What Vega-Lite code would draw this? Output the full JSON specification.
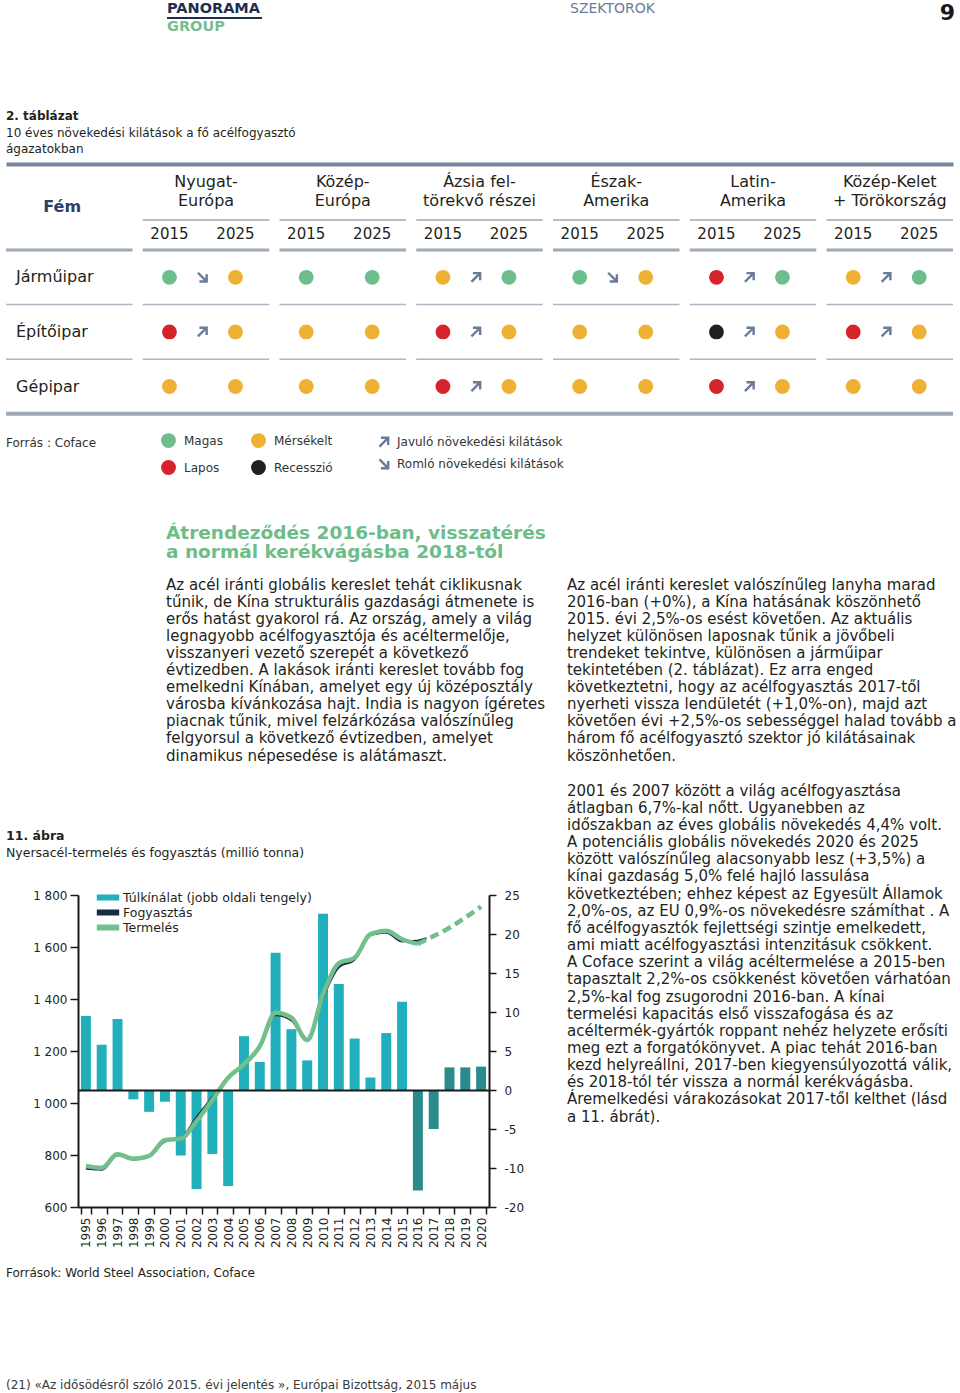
{
"$schema": "https://vega.github.io/schema/vega-lite/v6.json",
"background": "white",
"padding": {"left": 5, "top": 0, "right": 0, "bottom": 0},
"autosize": {"type": "pad"},
"spacing": 0,
"resolve": {"scale": {"color": "independent", "shape": "independent", "strokeDash": "independent", "strokeWidth": "independent"}, "legend": {"color": "independent", "shape": "independent", "strokeDash": "independent", "strokeWidth": "independent"}},
"config": {
  "font": "DejaVu Sans",
  "view": {"stroke": null},
  "axis": {"grid": false, "labelFont": "DejaVu Sans"},
  "legend": {"labelFont": "DejaVu Sans"},
  "text": {"font": "DejaVu Sans"}
},
"datasets": {
  "szintek": [
    {"agazat": "Járműipar", "oszlop": "Nyugat-Európa", "ev": "2015", "szint": "Magas"},
    {"agazat": "Járműipar", "oszlop": "Nyugat-Európa", "ev": "2025", "szint": "Mérsékelt"},
    {"agazat": "Járműipar", "oszlop": "Közép-Európa", "ev": "2015", "szint": "Magas"},
    {"agazat": "Járműipar", "oszlop": "Közép-Európa", "ev": "2025", "szint": "Magas"},
    {"agazat": "Járműipar", "oszlop": "Ázsia feltörekvő részei", "ev": "2015", "szint": "Mérsékelt"},
    {"agazat": "Járműipar", "oszlop": "Ázsia feltörekvő részei", "ev": "2025", "szint": "Magas"},
    {"agazat": "Járműipar", "oszlop": "Észak-Amerika", "ev": "2015", "szint": "Magas"},
    {"agazat": "Járműipar", "oszlop": "Észak-Amerika", "ev": "2025", "szint": "Mérsékelt"},
    {"agazat": "Járműipar", "oszlop": "Latin-Amerika", "ev": "2015", "szint": "Lapos"},
    {"agazat": "Járműipar", "oszlop": "Latin-Amerika", "ev": "2025", "szint": "Magas"},
    {"agazat": "Járműipar", "oszlop": "Közép-Kelet + Törökország", "ev": "2015", "szint": "Mérsékelt"},
    {"agazat": "Járműipar", "oszlop": "Közép-Kelet + Törökország", "ev": "2025", "szint": "Magas"},
    {"agazat": "Építőipar", "oszlop": "Nyugat-Európa", "ev": "2015", "szint": "Lapos"},
    {"agazat": "Építőipar", "oszlop": "Nyugat-Európa", "ev": "2025", "szint": "Mérsékelt"},
    {"agazat": "Építőipar", "oszlop": "Közép-Európa", "ev": "2015", "szint": "Mérsékelt"},
    {"agazat": "Építőipar", "oszlop": "Közép-Európa", "ev": "2025", "szint": "Mérsékelt"},
    {"agazat": "Építőipar", "oszlop": "Ázsia feltörekvő részei", "ev": "2015", "szint": "Lapos"},
    {"agazat": "Építőipar", "oszlop": "Ázsia feltörekvő részei", "ev": "2025", "szint": "Mérsékelt"},
    {"agazat": "Építőipar", "oszlop": "Észak-Amerika", "ev": "2015", "szint": "Mérsékelt"},
    {"agazat": "Építőipar", "oszlop": "Észak-Amerika", "ev": "2025", "szint": "Mérsékelt"},
    {"agazat": "Építőipar", "oszlop": "Latin-Amerika", "ev": "2015", "szint": "Recesszió"},
    {"agazat": "Építőipar", "oszlop": "Latin-Amerika", "ev": "2025", "szint": "Mérsékelt"},
    {"agazat": "Építőipar", "oszlop": "Közép-Kelet + Törökország", "ev": "2015", "szint": "Lapos"},
    {"agazat": "Építőipar", "oszlop": "Közép-Kelet + Törökország", "ev": "2025", "szint": "Mérsékelt"},
    {"agazat": "Gépipar", "oszlop": "Nyugat-Európa", "ev": "2015", "szint": "Mérsékelt"},
    {"agazat": "Gépipar", "oszlop": "Nyugat-Európa", "ev": "2025", "szint": "Mérsékelt"},
    {"agazat": "Gépipar", "oszlop": "Közép-Európa", "ev": "2015", "szint": "Mérsékelt"},
    {"agazat": "Gépipar", "oszlop": "Közép-Európa", "ev": "2025", "szint": "Mérsékelt"},
    {"agazat": "Gépipar", "oszlop": "Ázsia feltörekvő részei", "ev": "2015", "szint": "Lapos"},
    {"agazat": "Gépipar", "oszlop": "Ázsia feltörekvő részei", "ev": "2025", "szint": "Mérsékelt"},
    {"agazat": "Gépipar", "oszlop": "Észak-Amerika", "ev": "2015", "szint": "Mérsékelt"},
    {"agazat": "Gépipar", "oszlop": "Észak-Amerika", "ev": "2025", "szint": "Mérsékelt"},
    {"agazat": "Gépipar", "oszlop": "Latin-Amerika", "ev": "2015", "szint": "Lapos"},
    {"agazat": "Gépipar", "oszlop": "Latin-Amerika", "ev": "2025", "szint": "Mérsékelt"},
    {"agazat": "Gépipar", "oszlop": "Közép-Kelet + Törökország", "ev": "2015", "szint": "Mérsékelt"},
    {"agazat": "Gépipar", "oszlop": "Közép-Kelet + Törökország", "ev": "2025", "szint": "Mérsékelt"}
  ],
  "iranyok": [
    {"agazat": "Járműipar", "oszlop": "Nyugat-Európa", "ev": "irány", "irany": "Romló növekedési kilátások"},
    {"agazat": "Járműipar", "oszlop": "Ázsia feltörekvő részei", "ev": "irány", "irany": "Javuló növekedési kilátások"},
    {"agazat": "Járműipar", "oszlop": "Észak-Amerika", "ev": "irány", "irany": "Romló növekedési kilátások"},
    {"agazat": "Járműipar", "oszlop": "Latin-Amerika", "ev": "irány", "irany": "Javuló növekedési kilátások"},
    {"agazat": "Járműipar", "oszlop": "Közép-Kelet + Törökország", "ev": "irány", "irany": "Javuló növekedési kilátások"},
    {"agazat": "Építőipar", "oszlop": "Nyugat-Európa", "ev": "irány", "irany": "Javuló növekedési kilátások"},
    {"agazat": "Építőipar", "oszlop": "Ázsia feltörekvő részei", "ev": "irány", "irany": "Javuló növekedési kilátások"},
    {"agazat": "Építőipar", "oszlop": "Latin-Amerika", "ev": "irány", "irany": "Javuló növekedési kilátások"},
    {"agazat": "Építőipar", "oszlop": "Közép-Kelet + Törökország", "ev": "irány", "irany": "Javuló növekedési kilátások"},
    {"agazat": "Gépipar", "oszlop": "Ázsia feltörekvő részei", "ev": "irány", "irany": "Javuló növekedési kilátások"},
    {"agazat": "Gépipar", "oszlop": "Latin-Amerika", "ev": "irány", "irany": "Javuló növekedési kilátások"}
  ],
  "racs": [
    {"agazat": "Járműipar", "oszlop": "Fém"}, {"agazat": "Járműipar", "oszlop": "Nyugat-Európa"}, {"agazat": "Járműipar", "oszlop": "Közép-Európa"}, {"agazat": "Járműipar", "oszlop": "Ázsia feltörekvő részei"}, {"agazat": "Járműipar", "oszlop": "Észak-Amerika"}, {"agazat": "Járműipar", "oszlop": "Latin-Amerika"}, {"agazat": "Járműipar", "oszlop": "Közép-Kelet + Törökország"},
    {"agazat": "Építőipar", "oszlop": "Fém"}, {"agazat": "Építőipar", "oszlop": "Nyugat-Európa"}, {"agazat": "Építőipar", "oszlop": "Közép-Európa"}, {"agazat": "Építőipar", "oszlop": "Ázsia feltörekvő részei"}, {"agazat": "Építőipar", "oszlop": "Észak-Amerika"}, {"agazat": "Építőipar", "oszlop": "Latin-Amerika"}, {"agazat": "Építőipar", "oszlop": "Közép-Kelet + Törökország"},
    {"agazat": "Gépipar", "oszlop": "Fém"}, {"agazat": "Gépipar", "oszlop": "Nyugat-Európa"}, {"agazat": "Gépipar", "oszlop": "Közép-Európa"}, {"agazat": "Gépipar", "oszlop": "Ázsia feltörekvő részei"}, {"agazat": "Gépipar", "oszlop": "Észak-Amerika"}, {"agazat": "Gépipar", "oszlop": "Latin-Amerika"}, {"agazat": "Gépipar", "oszlop": "Közép-Kelet + Törökország"}
  ],
  "tulkinalat": [
    {"ev": "1995", "ertek": 9.5, "szakasz": "tény"},
    {"ev": "1996", "ertek": 5.8, "szakasz": "tény"},
    {"ev": "1997", "ertek": 9.1, "szakasz": "tény"},
    {"ev": "1998", "ertek": -1.2, "szakasz": "tény"},
    {"ev": "1999", "ertek": -2.8, "szakasz": "tény"},
    {"ev": "2000", "ertek": -1.5, "szakasz": "tény"},
    {"ev": "2001", "ertek": -8.4, "szakasz": "tény"},
    {"ev": "2002", "ertek": -12.7, "szakasz": "tény"},
    {"ev": "2003", "ertek": -8.2, "szakasz": "tény"},
    {"ev": "2004", "ertek": -12.3, "szakasz": "tény"},
    {"ev": "2005", "ertek": 6.9, "szakasz": "tény"},
    {"ev": "2006", "ertek": 3.6, "szakasz": "tény"},
    {"ev": "2007", "ertek": 17.6, "szakasz": "tény"},
    {"ev": "2008", "ertek": 7.8, "szakasz": "tény"},
    {"ev": "2009", "ertek": 3.8, "szakasz": "tény"},
    {"ev": "2010", "ertek": 22.6, "szakasz": "tény"},
    {"ev": "2011", "ertek": 13.6, "szakasz": "tény"},
    {"ev": "2012", "ertek": 6.6, "szakasz": "tény"},
    {"ev": "2013", "ertek": 1.6, "szakasz": "tény"},
    {"ev": "2014", "ertek": 7.3, "szakasz": "tény"},
    {"ev": "2015", "ertek": 11.3, "szakasz": "tény"},
    {"ev": "2016", "ertek": -12.9, "szakasz": "előrejelzés"},
    {"ev": "2017", "ertek": -5.0, "szakasz": "előrejelzés"},
    {"ev": "2018", "ertek": 2.9, "szakasz": "előrejelzés"},
    {"ev": "2019", "ertek": 2.9, "szakasz": "előrejelzés"},
    {"ev": "2020", "ertek": 3.0, "szakasz": "előrejelzés"}
  ],
  "vonalak": [
    {"ev": "1995", "sorozat": "Fogyasztás", "szakasz": "tény", "ertek": 748},
    {"ev": "1996", "sorozat": "Fogyasztás", "szakasz": "tény", "ertek": 744},
    {"ev": "1997", "sorozat": "Fogyasztás", "szakasz": "tény", "ertek": 799},
    {"ev": "1998", "sorozat": "Fogyasztás", "szakasz": "tény", "ertek": 783},
    {"ev": "1999", "sorozat": "Fogyasztás", "szakasz": "tény", "ertek": 795},
    {"ev": "2000", "sorozat": "Fogyasztás", "szakasz": "tény", "ertek": 852},
    {"ev": "2001", "sorozat": "Fogyasztás", "szakasz": "tény", "ertek": 866},
    {"ev": "2002", "sorozat": "Fogyasztás", "szakasz": "tény", "ertek": 945},
    {"ev": "2003", "sorozat": "Fogyasztás", "szakasz": "tény", "ertek": 1022},
    {"ev": "2004", "sorozat": "Fogyasztás", "szakasz": "tény", "ertek": 1097},
    {"ev": "2005", "sorozat": "Fogyasztás", "szakasz": "tény", "ertek": 1145},
    {"ev": "2006", "sorozat": "Fogyasztás", "szakasz": "tény", "ertek": 1214},
    {"ev": "2007", "sorozat": "Fogyasztás", "szakasz": "tény", "ertek": 1338},
    {"ev": "2008", "sorozat": "Fogyasztás", "szakasz": "tény", "ertek": 1318},
    {"ev": "2009", "sorozat": "Fogyasztás", "szakasz": "tény", "ertek": 1240},
    {"ev": "2010", "sorozat": "Fogyasztás", "szakasz": "tény", "ertek": 1405},
    {"ev": "2011", "sorozat": "Fogyasztás", "szakasz": "tény", "ertek": 1522},
    {"ev": "2012", "sorozat": "Fogyasztás", "szakasz": "tény", "ertek": 1552},
    {"ev": "2013", "sorozat": "Fogyasztás", "szakasz": "tény", "ertek": 1645},
    {"ev": "2014", "sorozat": "Fogyasztás", "szakasz": "tény", "ertek": 1655},
    {"ev": "2015", "sorozat": "Fogyasztás", "szakasz": "tény", "ertek": 1622},
    {"ev": "2016", "sorozat": "Fogyasztás", "szakasz": "tény", "ertek": 1624},
    {"ev": "2016", "sorozat": "Fogyasztás", "szakasz": "előrejelzés", "ertek": 1624},
    {"ev": "2017", "sorozat": "Fogyasztás", "szakasz": "előrejelzés", "ertek": 1642},
    {"ev": "1995", "sorozat": "Termelés", "szakasz": "tény", "ertek": 758},
    {"ev": "1996", "sorozat": "Termelés", "szakasz": "tény", "ertek": 751},
    {"ev": "1997", "sorozat": "Termelés", "szakasz": "tény", "ertek": 803},
    {"ev": "1998", "sorozat": "Termelés", "szakasz": "tény", "ertek": 786},
    {"ev": "1999", "sorozat": "Termelés", "szakasz": "tény", "ertek": 797},
    {"ev": "2000", "sorozat": "Termelés", "szakasz": "tény", "ertek": 857},
    {"ev": "2001", "sorozat": "Termelés", "szakasz": "tény", "ertek": 863},
    {"ev": "2002", "sorozat": "Termelés", "szakasz": "tény", "ertek": 931},
    {"ev": "2003", "sorozat": "Termelés", "szakasz": "tény", "ertek": 1012},
    {"ev": "2004", "sorozat": "Termelés", "szakasz": "tény", "ertek": 1097},
    {"ev": "2005", "sorozat": "Termelés", "szakasz": "tény", "ertek": 1149},
    {"ev": "2006", "sorozat": "Termelés", "szakasz": "tény", "ertek": 1219},
    {"ev": "2007", "sorozat": "Termelés", "szakasz": "tény", "ertek": 1347},
    {"ev": "2008", "sorozat": "Termelés", "szakasz": "tény", "ertek": 1328},
    {"ev": "2009", "sorozat": "Termelés", "szakasz": "tény", "ertek": 1242},
    {"ev": "2010", "sorozat": "Termelés", "szakasz": "tény", "ertek": 1418},
    {"ev": "2011", "sorozat": "Termelés", "szakasz": "tény", "ertek": 1537},
    {"ev": "2012", "sorozat": "Termelés", "szakasz": "tény", "ertek": 1559},
    {"ev": "2013", "sorozat": "Termelés", "szakasz": "tény", "ertek": 1649},
    {"ev": "2014", "sorozat": "Termelés", "szakasz": "tény", "ertek": 1662},
    {"ev": "2015", "sorozat": "Termelés", "szakasz": "tény", "ertek": 1630},
    {"ev": "2016", "sorozat": "Termelés", "szakasz": "tény", "ertek": 1612},
    {"ev": "2016", "sorozat": "Termelés", "szakasz": "előrejelzés", "ertek": 1612},
    {"ev": "2017", "sorozat": "Termelés", "szakasz": "előrejelzés", "ertek": 1642},
    {"ev": "2018", "sorozat": "Termelés", "szakasz": "előrejelzés", "ertek": 1674},
    {"ev": "2019", "sorozat": "Termelés", "szakasz": "előrejelzés", "ertek": 1713},
    {"ev": "2020", "sorozat": "Termelés", "szakasz": "előrejelzés", "ertek": 1755}
  ]
},
"vconcat": [
  {
    "hconcat": [
      {"width": 160, "height": 36, "data": {"values": []}, "mark": "point", "encoding": {}},
      {
        "width": 95, "height": 36,
        "data": {"values": [{"sor": "1", "szoveg": "PANORAMA"}, {"sor": "2", "szoveg": "GROUP"}]},
        "encoding": {"y": {"field": "sor", "type": "nominal", "scale": {"type": "band", "domain": ["1", "2"], "paddingInner": 0, "paddingOuter": 0}, "axis": null}},
        "layer": [
          {"transform": [{"filter": "datum.sor === '1'"}], "mark": {"type": "text", "align": "left", "baseline": "middle", "fontSize": 14.5, "fontWeight": "bold", "color": "#1f2d52"},
           "encoding": {"x": {"datum": 0, "type": "quantitative", "scale": {"domain": [0, 1]}, "axis": null}, "text": {"field": "szoveg"}}},
          {"transform": [{"filter": "datum.sor === '2'"}], "mark": {"type": "text", "align": "left", "baseline": "middle", "fontSize": 14.5, "fontWeight": "bold", "color": "#79bd8f"},
           "encoding": {"x": {"datum": 0, "type": "quantitative", "scale": {"domain": [0, 1]}, "axis": null}, "text": {"field": "szoveg"}}},
          {"transform": [{"filter": "datum.sor === '2'"}], "mark": {"type": "rule", "color": "#1f2d52", "strokeWidth": 2},
           "encoding": {"y": {"field": "sor", "type": "nominal", "bandPosition": 0}}}
        ]
      },
      {"width": 307, "height": 36, "data": {"values": []}, "mark": "point", "encoding": {}},
      {
        "width": 385, "height": 36,
        "data": {"values": [{"sor": "1", "elem": "szekció", "szoveg": "SZEKTOROK"}, {"sor": "1", "elem": "oldalszám", "szoveg": "9"}]},
        "encoding": {"y": {"field": "sor", "type": "nominal", "scale": {"type": "band", "domain": ["1", "2"], "paddingInner": 0, "paddingOuter": 0}, "axis": null}},
        "layer": [
          {"transform": [{"filter": "datum.elem === 'szekció'"}], "mark": {"type": "text", "align": "left", "baseline": "middle", "fontSize": 14, "color": "#6b7b99"},
           "encoding": {"x": {"datum": 0, "type": "quantitative", "scale": {"domain": [0, 1]}, "axis": null}, "text": {"field": "szoveg"}}},
          {"transform": [{"filter": "datum.elem === 'oldalszám'"}], "mark": {"type": "text", "align": "right", "baseline": "middle", "fontSize": 22, "fontWeight": "bold", "color": "#1a1a1a", "dy": 4},
           "encoding": {"x": {"datum": 1, "type": "quantitative", "scale": {"domain": [0, 1]}, "axis": null}, "text": {"field": "szoveg"}}}
        ]
      }
    ],
    "spacing": 0
  },
  {"width": 10, "height": 71.75, "data": {"values": []}, "mark": "point", "encoding": {}},
  {
    "width": 400, "height": 49.5,
    "data": {"values": [
      {"sor": 1, "szoveg": "2. táblázat"},
      {"sor": 2, "szoveg": "10 éves növekedési kilátások a fő acélfogyasztó"},
      {"sor": 3, "szoveg": "ágazatokban"}
    ]},
    "encoding": {
      "x": {"datum": 0, "type": "quantitative", "scale": {"domain": [0, 1]}, "axis": null},
      "y": {"field": "sor", "type": "ordinal", "scale": {"type": "band", "paddingInner": 0, "paddingOuter": 0}, "axis": null},
      "text": {"field": "szoveg"}
    },
    "layer": [
      {"transform": [{"filter": "datum.sor === 1"}], "mark": {"type": "text", "align": "left", "baseline": "middle", "fontSize": 12, "fontWeight": "bold", "color": "#231f20"}},
      {"transform": [{"filter": "datum.sor > 1"}], "mark": {"type": "text", "align": "left", "baseline": "middle", "fontSize": 12, "color": "#231f20"}}
    ]
  },
  {"width": 10, "height": 5.75, "data": {"values": []}, "mark": "point", "encoding": {}},
  {
    "width": 947, "height": 55,
    "data": {"values": [
      {"oszlop": "Nyugat-Európa", "sor": "1", "szoveg": "Nyugat-"},
      {"oszlop": "Nyugat-Európa", "sor": "2", "szoveg": "Európa"},
      {"oszlop": "Közép-Európa", "sor": "1", "szoveg": "Közép-"},
      {"oszlop": "Közép-Európa", "sor": "2", "szoveg": "Európa"},
      {"oszlop": "Ázsia feltörekvő részei", "sor": "1", "szoveg": "Ázsia fel-"},
      {"oszlop": "Ázsia feltörekvő részei", "sor": "2", "szoveg": "törekvő részei"},
      {"oszlop": "Észak-Amerika", "sor": "1", "szoveg": "Észak-"},
      {"oszlop": "Észak-Amerika", "sor": "2", "szoveg": "Amerika"},
      {"oszlop": "Latin-Amerika", "sor": "1", "szoveg": "Latin-"},
      {"oszlop": "Latin-Amerika", "sor": "2", "szoveg": "Amerika"},
      {"oszlop": "Közép-Kelet + Törökország", "sor": "1", "szoveg": "Közép-Kelet"},
      {"oszlop": "Közép-Kelet + Törökország", "sor": "2", "szoveg": "+ Törökország"},
      {"oszlop": "Fém", "sor": "2", "szoveg": "Fém"}
    ]},
    "encoding": {
      "x": {"field": "oszlop", "type": "nominal",
            "scale": {"type": "band", "domain": ["Fém", "Nyugat-Európa", "Közép-Európa", "Ázsia feltörekvő részei", "Észak-Amerika", "Latin-Amerika", "Közép-Kelet + Törökország"], "paddingInner": 0.075, "paddingOuter": 0},
            "axis": {"orient": "top", "domain": true, "domainWidth": 4, "domainColor": "#75859b", "labels": false, "ticks": false, "title": null}},
      "y": {"field": "sor", "type": "nominal", "scale": {"type": "band", "domain": ["1", "2"], "paddingInner": 0, "paddingOuter": 0.447}, "axis": null},
      "text": {"field": "szoveg"}
    },
    "layer": [
      {"transform": [{"filter": "datum.oszlop !== 'Fém'"}], "mark": {"type": "text", "align": "center", "baseline": "middle", "fontSize": 16, "color": "#231f20"}},
      {"transform": [{"filter": "datum.oszlop === 'Fém'"}], "mark": {"type": "text", "align": "center", "baseline": "middle", "fontSize": 16, "fontWeight": "bold", "color": "#2c3d6e", "dx": -7, "dy": 6}}
    ]
  },
  {
    "width": 947, "height": 27.75,
    "data": {"values": [
      {"oszlop": "Nyugat-Európa", "ev": "2015", "sor": "év"}, {"oszlop": "Nyugat-Európa", "ev": "2025", "sor": "év"},
      {"oszlop": "Közép-Európa", "ev": "2015", "sor": "év"}, {"oszlop": "Közép-Európa", "ev": "2025", "sor": "év"},
      {"oszlop": "Ázsia feltörekvő részei", "ev": "2015", "sor": "év"}, {"oszlop": "Ázsia feltörekvő részei", "ev": "2025", "sor": "év"},
      {"oszlop": "Észak-Amerika", "ev": "2015", "sor": "év"}, {"oszlop": "Észak-Amerika", "ev": "2025", "sor": "év"},
      {"oszlop": "Latin-Amerika", "ev": "2015", "sor": "év"}, {"oszlop": "Latin-Amerika", "ev": "2025", "sor": "év"},
      {"oszlop": "Közép-Kelet + Törökország", "ev": "2015", "sor": "év"}, {"oszlop": "Közép-Kelet + Törökország", "ev": "2025", "sor": "év"}
    ]},
    "encoding": {
      "x": {"field": "oszlop", "type": "nominal",
            "scale": {"type": "band", "domain": ["Fém", "Nyugat-Európa", "Közép-Európa", "Ázsia feltörekvő részei", "Észak-Amerika", "Latin-Amerika", "Közép-Kelet + Törökország"], "paddingInner": 0.075, "paddingOuter": 0},
            "axis": null},
      "y": {"field": "sor", "type": "nominal", "scale": {"type": "band", "domain": ["év"], "paddingInner": 0, "paddingOuter": 0}, "axis": null}
    },
    "layer": [
      {"transform": [{"aggregate": [{"op": "count", "as": "n"}], "groupby": ["oszlop", "sor"]}],
       "mark": {"type": "tick", "orient": "horizontal", "size": 126.5, "thickness": 1.5, "color": "#75859b"},
       "encoding": {"y": {"field": "sor", "type": "nominal", "bandPosition": 0}}},
      {"mark": {"type": "text", "align": "center", "baseline": "middle", "fontSize": 15, "color": "#231f20"},
       "encoding": {"xOffset": {"field": "ev", "type": "nominal", "scale": {"type": "band", "domain": ["2015", "irány", "2025"], "paddingInner": 0, "paddingOuter": 0.4167, "align": 0.371}}, "text": {"field": "ev"}}}
    ]
  },
  {
    "width": 947, "height": 273,
    "encoding": {
      "x": {"field": "oszlop", "type": "nominal",
            "scale": {"type": "band", "domain": ["Fém", "Nyugat-Európa", "Közép-Európa", "Ázsia feltörekvő részei", "Észak-Amerika", "Latin-Amerika", "Közép-Kelet + Törökország"], "paddingInner": 0.075, "paddingOuter": 0},
            "axis": null},
      "y": {"field": "agazat", "type": "nominal", "scale": {"type": "band", "domain": ["Járműipar", "Építőipar", "Gépipar", "Forrás", "köz"], "paddingInner": 0, "paddingOuter": 0}, "axis": null}
    },
    "layer": [
      {"data": {"name": "racs"}, "transform": [{"filter": "datum.agazat === 'Járműipar'"}],
       "mark": {"type": "tick", "orient": "horizontal", "size": 126.5, "thickness": 3, "color": "#75859b"},
       "encoding": {"y": {"field": "agazat", "type": "nominal", "bandPosition": 0}}},
      {"data": {"name": "racs"}, "transform": [{"filter": "datum.agazat !== 'Járműipar'"}],
       "mark": {"type": "tick", "orient": "horizontal", "size": 126.5, "thickness": 1.5, "color": "#8a98ab"},
       "encoding": {"y": {"field": "agazat", "type": "nominal", "bandPosition": 0}}},
      {"data": {"values": [{"agazat": "Gépipar", "oszlop": "Ázsia feltörekvő részei"}]},
       "mark": {"type": "tick", "orient": "horizontal", "size": 947, "thickness": 4, "color": "#75859b"},
       "encoding": {"y": {"field": "agazat", "type": "nominal", "bandPosition": 1}}},
      {"data": {"values": [{"agazat": "Járműipar", "oszlop": "Fém"}, {"agazat": "Építőipar", "oszlop": "Fém"}, {"agazat": "Gépipar", "oszlop": "Fém"}]},
       "mark": {"type": "text", "align": "left", "baseline": "middle", "fontSize": 16, "color": "#231f20", "dx": 10},
       "encoding": {"x": {"field": "oszlop", "type": "nominal", "bandPosition": 0}, "text": {"field": "agazat"}}},
      {"data": {"values": [{"agazat": "Forrás", "oszlop": "Fém", "szoveg": "Forrás : Coface"}]},
       "mark": {"type": "text", "align": "left", "baseline": "middle", "fontSize": 12, "color": "#333333", "dy": 2},
       "encoding": {"x": {"field": "oszlop", "type": "nominal", "bandPosition": 0}, "text": {"field": "szoveg"}}},
      {"data": {"name": "szintek"},
       "mark": {"type": "point", "filled": true, "size": 220, "opacity": 1, "strokeWidth": 0},
       "encoding": {
         "xOffset": {"field": "ev", "type": "nominal", "scale": {"type": "band", "domain": ["2015", "irány", "2025"], "paddingInner": 0, "paddingOuter": 0.4167, "align": 0.371}},
         "color": {"field": "szint", "type": "nominal",
                   "scale": {"domain": ["Magas", "Lapos", "Mérsékelt", "Recesszió"], "range": ["#6dbe8c", "#d5242b", "#eeb134", "#231f20"]},
                   "legend": {"title": null, "orient": "none", "legendX": 155, "legendY": 183, "columns": 2, "symbolType": "circle", "symbolSize": 220, "symbolStrokeWidth": 0, "labelFontSize": 12, "labelColor": "#333333", "labelOffset": 8, "rowPadding": 12, "columnPadding": 28}}
       }},
      {"data": {"name": "iranyok"},
       "mark": {"type": "point", "filled": true, "size": 144, "opacity": 1, "color": "#6a7b96", "strokeWidth": 0},
       "encoding": {
         "xOffset": {"field": "ev", "type": "nominal", "scale": {"type": "band", "domain": ["2015", "irány", "2025"], "paddingInner": 0, "paddingOuter": 0.4167, "align": 0.371}},
         "shape": {"field": "irany", "type": "nominal",
                   "scale": {"domain": ["Javuló növekedési kilátások", "Romló növekedési kilátások"],
                             "range": ["M-0.5,-0.9L0.9,-0.9L0.9,0.5L0.5,0.5L0.5,-0.22L-0.62,0.9L-0.9,0.62L0.22,-0.5L-0.5,-0.5Z", "M-0.5,0.9L0.9,0.9L0.9,-0.5L0.5,-0.5L0.5,0.22L-0.62,-0.9L-0.9,-0.62L0.22,0.5L-0.5,0.5Z"]},
                   "legend": {"title": null, "orient": "none", "legendX": 372, "legendY": 186, "symbolSize": 144, "symbolFillColor": "#6a7b96", "symbolStrokeWidth": 0, "labelFontSize": 12, "labelColor": "#333333", "labelOffset": 7, "labelLimit": 400, "rowPadding": 10}}
       }}
    ]
  },
  {
    "hconcat": [
      {"width": 160, "height": 258.4, "data": {"values": []}, "mark": "point", "encoding": {}},
      {
        "vconcat": [
          {
            "width": 391, "height": 39,
            "data": {"values": [
              {"sor": 1, "szoveg": "Átrendeződés 2016-ban, visszatérés"},
              {"sor": 2, "szoveg": "a normál kerékvágásba 2018-tól"}
            ]},
            "mark": {"type": "text", "align": "left", "baseline": "middle", "fontSize": 18.5, "fontWeight": "bold", "color": "#6cbd8a"},
            "encoding": {
              "x": {"datum": 0, "type": "quantitative", "scale": {"domain": [0, 1]}, "axis": null},
              "y": {"field": "sor", "type": "ordinal", "scale": {"type": "band", "paddingInner": 0, "paddingOuter": 0}, "axis": null},
              "text": {"field": "szoveg"}
            }
          },
          {"width": 10, "height": 13.45, "data": {"values": []}, "mark": "point", "encoding": {}},
          {
            "width": 792, "height": 188.1,
            "data": {"values": [
              {"oszlop": "bal", "sor": 1, "szoveg": "Az acél iránti globális kereslet tehát ciklikusnak"},
              {"oszlop": "bal", "sor": 2, "szoveg": "tűnik, de Kína strukturális gazdasági átmenete is"},
              {"oszlop": "bal", "sor": 3, "szoveg": "erős hatást gyakorol rá. Az ország, amely a világ"},
              {"oszlop": "bal", "sor": 4, "szoveg": "legnagyobb acélfogyasztója és acéltermelője,"},
              {"oszlop": "bal", "sor": 5, "szoveg": "visszanyeri vezető szerepét a következő"},
              {"oszlop": "bal", "sor": 6, "szoveg": "évtizedben. A lakások iránti kereslet tovább fog"},
              {"oszlop": "bal", "sor": 7, "szoveg": "emelkedni Kínában, amelyet egy új középosztály"},
              {"oszlop": "bal", "sor": 8, "szoveg": "városba kívánkozása hajt. India is nagyon ígéretes"},
              {"oszlop": "bal", "sor": 9, "szoveg": "piacnak tűnik, mivel felzárkózása valószínűleg"},
              {"oszlop": "bal", "sor": 10, "szoveg": "felgyorsul a következő évtizedben, amelyet"},
              {"oszlop": "bal", "sor": 11, "szoveg": "dinamikus népesedése is alátámaszt."},
              {"oszlop": "jobb", "sor": 1, "szoveg": "Az acél iránti kereslet valószínűleg lanyha marad"},
              {"oszlop": "jobb", "sor": 2, "szoveg": "2016-ban (+0%), a Kína hatásának köszönhető"},
              {"oszlop": "jobb", "sor": 3, "szoveg": "2015. évi 2,5%-os esést követően. Az aktuális"},
              {"oszlop": "jobb", "sor": 4, "szoveg": "helyzet különösen laposnak tűnik a jövőbeli"},
              {"oszlop": "jobb", "sor": 5, "szoveg": "trendeket tekintve, különösen a járműipar"},
              {"oszlop": "jobb", "sor": 6, "szoveg": "tekintetében (2. táblázat). Ez arra enged"},
              {"oszlop": "jobb", "sor": 7, "szoveg": "következtetni, hogy az acélfogyasztás 2017-től"},
              {"oszlop": "jobb", "sor": 8, "szoveg": "nyerheti vissza lendületét (+1,0%-on), majd azt"},
              {"oszlop": "jobb", "sor": 9, "szoveg": "követően évi +2,5%-os sebességgel halad tovább a"},
              {"oszlop": "jobb", "sor": 10, "szoveg": "három fő acélfogyasztó szektor jó kilátásainak"},
              {"oszlop": "jobb", "sor": 11, "szoveg": "köszönhetően."}
            ]},
            "mark": {"type": "text", "align": "left", "baseline": "middle", "fontSize": 15, "color": "#231f20"},
            "encoding": {
              "x": {"field": "oszlop", "type": "nominal", "scale": {"type": "band", "domain": ["bal", "jobb"], "paddingInner": 0.0249, "paddingOuter": 0}, "bandPosition": 0, "axis": null},
              "y": {"field": "sor", "type": "ordinal", "scale": {"type": "band", "paddingInner": 0, "paddingOuter": 0}, "axis": null},
              "text": {"field": "szoveg"}
            }
          }
        ],
        "spacing": 0
      }
    ],
    "spacing": 0
  },
  {
    "hconcat": [
      {
        "vconcat": [
          {"width": 10, "height": 44.6, "data": {"values": []}, "mark": "point", "encoding": {}},
          {
            "width": 551, "height": 34,
            "data": {"values": [
              {"sor": 1, "szoveg": "11. ábra"},
              {"sor": 2, "szoveg": "Nyersacél-termelés és fogyasztás (millió tonna)"}
            ]},
            "encoding": {
              "x": {"datum": 0, "type": "quantitative", "scale": {"domain": [0, 1]}, "axis": null},
              "y": {"field": "sor", "type": "ordinal", "scale": {"type": "band", "paddingInner": 0, "paddingOuter": 0}, "axis": null},
              "text": {"field": "szoveg"}
            },
            "layer": [
              {"transform": [{"filter": "datum.sor === 1"}], "mark": {"type": "text", "align": "left", "baseline": "middle", "fontSize": 12.5, "fontWeight": "bold", "color": "#231f20"}},
              {"transform": [{"filter": "datum.sor === 2"}], "mark": {"type": "text", "align": "left", "baseline": "middle", "fontSize": 12.5, "color": "#231f20"}}
            ]
          },
          {"width": 10, "height": 28, "data": {"values": []}, "mark": "point", "encoding": {}},
          {
            "hconcat": [
              {"width": 25.7, "height": 312, "data": {"values": []}, "mark": "point", "encoding": {}},
              {
                "width": 411, "height": 312,
                "layer": [
                  {
                    "data": {"name": "tulkinalat"},
                    "mark": {"type": "bar"},
                    "encoding": {
                      "x": {"field": "ev", "type": "nominal",
                            "scale": {"type": "band", "domain": ["1995","1996","1997","1998","1999","2000","2001","2002","2003","2004","2005","2006","2007","2008","2009","2010","2011","2012","2013","2014","2015","2016","2017","2018","2019","2020"], "paddingInner": 0.37, "paddingOuter": 0.185},
                            "axis": {"orient": "bottom", "title": null, "labelAngle": 270, "tickBand": "extent", "tickSize": 7, "tickWidth": 1.5, "tickColor": "#1a1a1a", "domainColor": "#1a1a1a", "domainWidth": 2, "labelFontSize": 12, "labelColor": "#231f20", "labelPadding": 3}},
                      "y": {"field": "ertek", "type": "quantitative",
                            "scale": {"domain": [-15, 25], "nice": false},
                            "axis": {"orient": "right", "title": null, "values": [-15, -10, -5, 0, 5, 10, 15, 20, 25],
                                     "labelExpr": "datum.value === -15 ? '-20' : (datum.value < 0 ? '-' + abs(datum.value) : '' + datum.value)",
                                     "grid": true, "gridColor": {"condition": {"test": "datum.value === 0", "value": "#1a1a1a"}, "value": "transparent"}, "gridWidth": 2, "zindex": 1,
                                     "tickSize": 7, "tickWidth": 1.5, "tickColor": "#1a1a1a", "domainColor": "#1a1a1a", "domainWidth": 2, "labelFontSize": 12, "labelColor": "#231f20", "labelPadding": 8}},
                      "color": {"condition": {"test": "datum.szakasz === 'előrejelzés'", "value": "#2a8b8d"},
                                "datum": "Túlkínálat (jobb oldali tengely)", "type": "nominal",
                                "scale": {"domain": ["Túlkínálat (jobb oldali tengely)", "Fogyasztás", "Termelés"], "range": ["#20afbb", "#1b2a45", "#72bf8c"]},
                                "legend": {"title": null, "orient": "none", "legendX": 23, "legendY": -4.5, "symbolType": "M-1.7,-0.35H1.7V0.35H-1.7Z", "symbolSize": 144, "symbolStrokeWidth": 2, "labelFontSize": 12.5, "labelColor": "#231f20", "labelOffset": 8, "labelLimit": 400, "rowPadding": 1}}
                    }
                  },
                  {
                    "data": {"name": "vonalak"},
                    "mark": {"type": "line", "interpolate": "monotone"},
                    "encoding": {
                      "x": {"field": "ev", "type": "nominal",
                            "scale": {"type": "band", "domain": ["1995","1996","1997","1998","1999","2000","2001","2002","2003","2004","2005","2006","2007","2008","2009","2010","2011","2012","2013","2014","2015","2016","2017","2018","2019","2020"], "paddingInner": 0.37, "paddingOuter": 0.185},
                            "axis": {"orient": "bottom", "title": null, "labelAngle": 270, "tickBand": "extent", "tickSize": 7, "tickWidth": 1.5, "tickColor": "#1a1a1a", "domainColor": "#1a1a1a", "domainWidth": 2, "labelFontSize": 12, "labelColor": "#231f20", "labelPadding": 3}},
                      "y": {"field": "ertek", "type": "quantitative",
                            "scale": {"domain": [600, 1800], "nice": false, "zero": false},
                            "axis": {"orient": "left", "title": null, "values": [600, 800, 1000, 1200, 1400, 1600, 1800],
                                     "labelExpr": "replace(format(datum.value, ','), ',', ' ')",
                                     "tickSize": 8, "tickWidth": 1.5, "tickColor": "#1a1a1a", "domainColor": "#1a1a1a", "domainWidth": 2, "labelFontSize": 12, "labelColor": "#231f20", "labelPadding": 3}},
                      "color": {"field": "sorozat", "type": "nominal",
                                "scale": {"domain": ["Túlkínálat (jobb oldali tengely)", "Fogyasztás", "Termelés"], "range": ["#20afbb", "#1b2a45", "#72bf8c"]},
                                "legend": {"title": null, "orient": "none", "legendX": 23, "legendY": -4.5, "symbolType": "M-1.7,-0.35H1.7V0.35H-1.7Z", "symbolSize": 144, "symbolStrokeWidth": 2, "labelFontSize": 12.5, "labelColor": "#231f20", "labelOffset": 8, "labelLimit": 400, "rowPadding": 1}},
                      "strokeWidth": {"field": "sorozat", "type": "nominal", "scale": {"domain": ["Fogyasztás", "Termelés"], "range": [2.2, 4.5]}, "legend": null},
                      "strokeDash": {"field": "szakasz", "type": "nominal", "scale": {"domain": ["tény", "előrejelzés"], "range": [[1, 0], [9, 5]]}, "legend": null}
                    }
                  }
                ],
                "resolve": {"scale": {"y": "independent"}}
              }
            ],
            "spacing": 0,
            "resolve": {"scale": {"color": "independent", "strokeDash": "independent", "strokeWidth": "independent"}, "legend": {"color": "independent", "strokeDash": "independent", "strokeWidth": "independent"}}
          },
          {"width": 10, "height": 16, "data": {"values": []}, "mark": "point", "encoding": {}},
          {
            "width": 551, "height": 17,
            "data": {"values": [{"szoveg": "Források: World Steel Association, Coface"}]},
            "mark": {"type": "text", "align": "left", "baseline": "middle", "fontSize": 12, "color": "#231f20"},
            "encoding": {
              "x": {"datum": 0, "type": "quantitative", "scale": {"domain": [0, 1]}, "axis": null},
              "text": {"field": "szoveg"}
            }
          }
        ],
        "spacing": 0,
        "resolve": {"scale": {"color": "independent", "strokeDash": "independent", "strokeWidth": "independent"}, "legend": {"color": "independent", "strokeDash": "independent", "strokeWidth": "independent"}}
      },
      {
        "width": 391, "height": 343.2,
        "data": {"values": [
          {"sor": 1, "szoveg": "2001 és 2007 között a világ acélfogyasztása"},
          {"sor": 2, "szoveg": "átlagban 6,7%-kal nőtt. Ugyanebben az"},
          {"sor": 3, "szoveg": "időszakban az éves globális növekedés 4,4% volt."},
          {"sor": 4, "szoveg": "A potenciális globális növekedés 2020 és 2025"},
          {"sor": 5, "szoveg": "között valószínűleg alacsonyabb lesz (+3,5%) a"},
          {"sor": 6, "szoveg": "kínai gazdaság 5,0% felé hajló lassulása"},
          {"sor": 7, "szoveg": "következtében; ehhez képest az Egyesült Államok"},
          {"sor": 8, "szoveg": "2,0%-os, az EU 0,9%-os növekedésre számíthat . A"},
          {"sor": 9, "szoveg": "fő acélfogyasztók fejlettségi szintje emelkedett,"},
          {"sor": 10, "szoveg": "ami miatt acélfogyasztási intenzitásuk csökkent."},
          {"sor": 11, "szoveg": "A Coface szerint a világ acéltermelése a 2015-ben"},
          {"sor": 12, "szoveg": "tapasztalt 2,2%-os csökkenést követően várhatóan"},
          {"sor": 13, "szoveg": "2,5%-kal fog zsugorodni 2016-ban. A kínai"},
          {"sor": 14, "szoveg": "termelési kapacitás első visszafogása és az"},
          {"sor": 15, "szoveg": "acéltermék-gyártók roppant nehéz helyzete erősíti"},
          {"sor": 16, "szoveg": "meg ezt a forgatókönyvet. A piac tehát 2016-ban"},
          {"sor": 17, "szoveg": "kezd helyreállni, 2017-ben kiegyensúlyozottá válik,"},
          {"sor": 18, "szoveg": "és 2018-tól tér vissza a normál kerékvágásba."},
          {"sor": 19, "szoveg": "Áremelkedési várakozásokat 2017-től kelthet (lásd"},
          {"sor": 20, "szoveg": "a 11. ábrát)."}
        ]},
        "mark": {"type": "text", "align": "left", "baseline": "middle", "fontSize": 15, "color": "#231f20"},
        "encoding": {
          "x": {"datum": 0, "type": "quantitative", "scale": {"domain": [0, 1]}, "axis": null},
          "y": {"field": "sor", "type": "ordinal", "scale": {"type": "band", "paddingInner": 0, "paddingOuter": 0}, "axis": null},
          "text": {"field": "szoveg"}
        }
      }
    ],
    "spacing": 10,
    "resolve": {"scale": {"color": "independent", "strokeDash": "independent", "strokeWidth": "independent"}, "legend": {"color": "independent", "strokeDash": "independent", "strokeWidth": "independent"}}
  },
  {"width": 10, "height": 95, "data": {"values": []}, "mark": "point", "encoding": {}},
  {
    "width": 600, "height": 17,
    "data": {"values": [{"szoveg": "(21) «Az idősödésről szóló 2015. évi jelentés », Európai Bizottság, 2015 május"}]},
    "mark": {"type": "text", "align": "left", "baseline": "middle", "fontSize": 12, "color": "#3a3a3a"},
    "encoding": {
      "x": {"datum": 0, "type": "quantitative", "scale": {"domain": [0, 1]}, "axis": null},
      "text": {"field": "szoveg"}
    }
  }
]
}
